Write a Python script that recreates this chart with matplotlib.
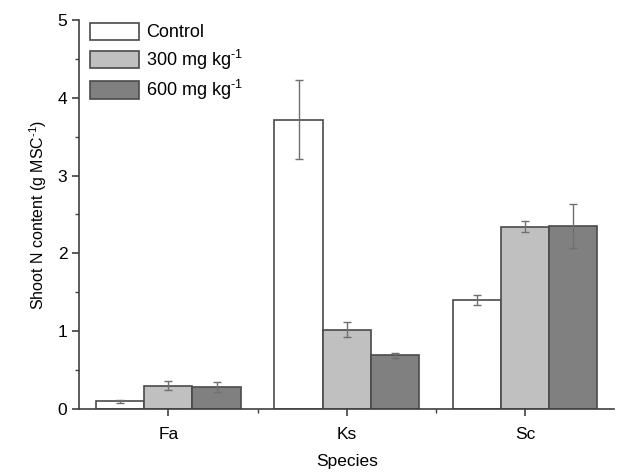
import matplotlib
matplotlib.use("Agg")
import matplotlib.pyplot as plt
import numpy as np
from matplotlib.ticker import MultipleLocator

plt.rcParams["font.family"] = ["Liberation Sans", "DejaVu Sans"]
plt.rcParams["mathtext.fontset"] = "custom"
plt.rcParams["mathtext.rm"] = "Liberation Sans"
plt.rcParams["mathtext.it"] = "Liberation Sans:italic"
plt.rcParams["mathtext.default"] = "regular"

species = ["Fa", "Ks", "Sc"]
series = ["Control", "300 mg kg$^{\\text{-1}}$", "600 mg kg$^{\\text{-1}}$"]
control = [0.10, 3.72, 1.40]
control_err = [0.02, 0.51, 0.07]
mg300 = [0.30, 1.02, 2.34]
mg300_err = [0.06, 0.10, 0.07]
mg600 = [0.28, 0.69, 2.35]
mg600_err = [0.06, 0.03, 0.28]

colors = ["#ffffff", "#c0c0c0", "#808080"]

fig = plt.figure(figsize=(6.19, 4.76), dpi=100)
ax = fig.add_axes([0.128, 0.141, 0.864, 0.817])

x = np.arange(1, len(species) + 1)
w = 0.27
vals = [control, mg300, mg600]
errs = [control_err, mg300_err, mg600_err]
for i, (v, e) in enumerate(zip(vals, errs)):
    ax.bar(x + (i - 1) * w, v, width=w, color=colors[i], edgecolor="#4a4a4a",
           linewidth=1.2, label=series[i], zorder=2)
    ax.errorbar(x + (i - 1) * w, v, yerr=e, fmt="none", ecolor="#707070",
                elinewidth=1.0, capsize=3, capthick=1.0, zorder=3)

ax.set_xlim(0.5, 3.5)
ax.set_ylim(0, 5)
ax.set_xticks(x)
ax.set_xticklabels(species)
ax.set_xticks([1.5, 2.5], minor=True)
ax.yaxis.set_major_locator(MultipleLocator(1))
ax.yaxis.set_minor_locator(MultipleLocator(0.5))
ax.tick_params(axis="both", which="major", direction="out", length=5, width=1.2,
               color="#404040", labelsize=12.5)
ax.tick_params(axis="x", which="major", pad=8)
ax.tick_params(axis="both", which="minor", direction="out", length=3, width=1.0,
               color="#404040")
for s in ["top", "right"]:
    ax.spines[s].set_visible(False)
for s in ["left", "bottom"]:
    ax.spines[s].set_color("#404040")
    ax.spines[s].set_linewidth(1.2)

ax.set_xlabel("Species", fontsize=12.5, labelpad=9)
ax.set_ylabel("Shoot N content (g MSC$^{\\text{-1}}$)", fontsize=11.5, labelpad=6)

leg = ax.legend(loc="upper left", bbox_to_anchor=(-0.01, 1.035), frameon=False,
                fontsize=13, handlelength=2.7, handleheight=1.1,
                handletextpad=0.4, labelspacing=0.35, borderaxespad=0.5)

fig.savefig("out.png", dpi=100)
